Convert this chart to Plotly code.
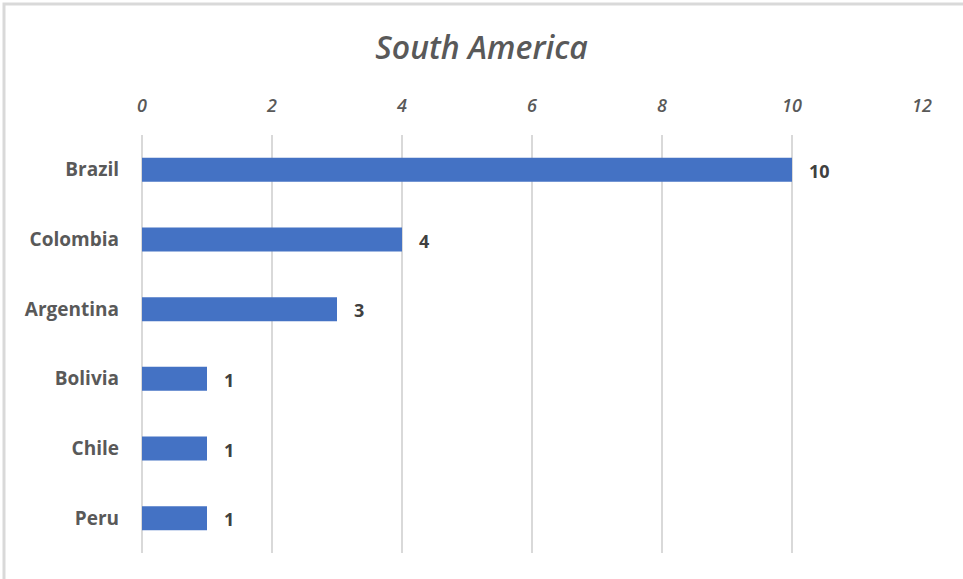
import plotly.graph_objects as go

countries = ["Brazil", "Colombia", "Argentina", "Bolivia", "Chile", "Peru"]
values = [10, 4, 3, 1, 1, 1]
tick_vals = [0, 2, 4, 6, 8, 10, 12]

FONT = "Open Sans, Lato, sans-serif"

fig = go.Figure()
fig.add_trace(go.Bar(
    y=countries, x=values, orientation="h",
    marker=dict(color="#4472C4", line=dict(width=0)),
    width=0.345, showlegend=False, hoverinfo="skip",
))

for c, v in zip(countries, values):
    fig.add_annotation(x=v, y=c, text=f"<b>{v}</b>", showarrow=False,
                       xanchor="left", xshift=15, yshift=-1,
                       font=dict(family=FONT, size=18, color="#404040"))

fig.update_layout(
    width=963, height=579,
    margin=dict(l=142, r=41, t=135, b=26),
    paper_bgcolor="white", plot_bgcolor="white",
    title=dict(text="<i>South America</i>", x=0.5, xanchor="center", y=1 - 48/579, yanchor="middle",
               font=dict(family=FONT, size=32, color="#595959", weight=600)),
    xaxis=dict(side="top", range=[0, 12], tickvals=tick_vals, ticktext=[f"<i>{t}</i>" for t in tick_vals],
               showgrid=True, gridcolor="#D9D9D9", gridwidth=1.5,
               zeroline=True, zerolinecolor="#D9D9D9", zerolinewidth=1.5,
               showline=False, ticks="outside", ticklen=15, tickcolor="rgba(0,0,0,0)",
               tickfont=dict(family=FONT, size=18, color="#595959", weight=600)),
    yaxis=dict(categoryorder="array", categoryarray=countries[::-1], autorange=True,
               showgrid=False, showline=False, ticks="", ticklabelstandoff=22,
               tickfont=dict(family=FONT, size=19, color="#595959"),
               tickprefix="<b>", ticksuffix="</b>"),
    shapes=[dict(type="rect", xref="paper", yref="paper",
                 x0=-138/780, x1=1 + 45/780, y0=-30/418, y1=1 + 131/418,
                 line=dict(color="#D9D9D9", width=3), fillcolor="rgba(0,0,0,0)")],
)

fig.write_html("out.html", config={"displayModeBar": False},
               post_script="document.body.style.margin='0px';")
